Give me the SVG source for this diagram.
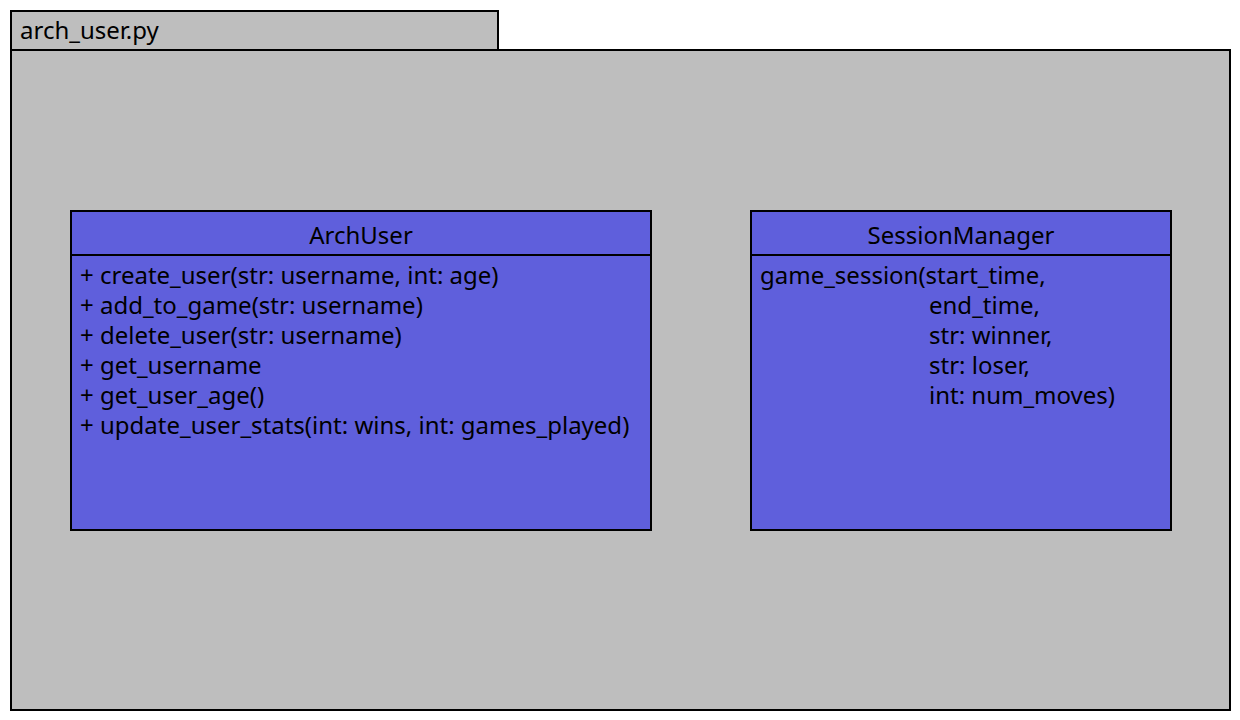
<svg xmlns="http://www.w3.org/2000/svg" width="1240" height="720" viewBox="0 0 1240 720">
<style>
.frame{fill:#bebebe;stroke:#000;stroke-width:2}
.cls{fill:#5f5fdc;stroke:#000;stroke-width:2}
.sep{stroke:#000;stroke-width:2}
text{font-family:"Noto Sans","Open Sans",sans-serif;font-size:24px;fill:#000}
.c{text-anchor:middle}
</style>
<g id="package">
<rect class="frame" x="11" y="11" width="487" height="39"/>
<rect class="frame" x="11" y="50" width="1219" height="660"/>
<text x="20" y="39">arch_user.py</text>
</g>
<g id="ArchUser">
<rect class="cls" x="71" y="211" width="580" height="319"/>
<line class="sep" x1="71" y1="255" x2="651" y2="255"/>
<text class="c" x="361" y="244">ArchUser</text>
<text x="80" y="284">+ create_user(str: username, int: age)</text>
<text x="80" y="314">+ add_to_game(str: username)</text>
<text x="80" y="344">+ delete_user(str: username)</text>
<text x="80" y="374">+ get_username</text>
<text x="80" y="404">+ get_user_age()</text>
<text x="80" y="434">+ update_user_stats(int: wins, int: games_played)</text>
</g>
<g id="SessionManager">
<rect class="cls" x="751" y="211" width="420" height="319"/>
<line class="sep" x1="751" y1="255" x2="1171" y2="255"/>
<text class="c" x="961" y="244">SessionManager</text>
<text x="760" y="284">game_session(start_time,</text>
<text x="929" y="314">end_time,</text>
<text x="929" y="344">str: winner,</text>
<text x="929" y="374">str: loser,</text>
<text x="929" y="404">int: num_moves)</text>
</g>
<g id="connectors"/>
</svg>
